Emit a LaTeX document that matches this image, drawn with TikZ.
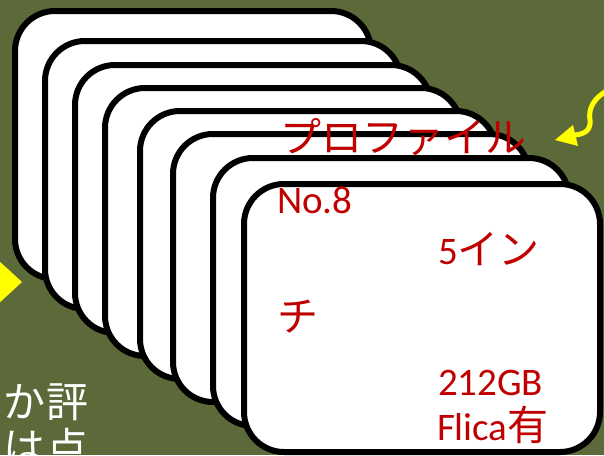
\documentclass[tikz,border=0pt]{standalone}
\usepackage{fontspec}
\newfontfamily\jpf{Noto Sans CJK JP}
\newfontfamily\latf{Carlito}
\newcommand{\jpsz}{\fontsize{41}{43}\selectfont}
\newcommand{\lasz}{\fontsize{39}{41}\selectfont}
\definecolor{bgolive}{RGB}{92,106,58}
\definecolor{txtred}{RGB}{192,0,0}
\definecolor{arrowyellow}{RGB}{255,255,0}
\begin{document}
\begin{tikzpicture}[x=1pt,y=-1pt,
  card/.style={draw=black, fill=white, line width=6pt, rounded corners=40pt,
    minimum width=356pt, minimum height=268pt, inner sep=0pt, outer sep=0pt},
  redtxt/.style={text=txtred, inner sep=0pt, outer sep=0pt, anchor=base west},
  whitetxt/.style={text=white, inner sep=0pt, outer sep=0pt, anchor=base east,
    font=\jpf\fontsize{42}{44}\selectfont},
  yarrow/.style={draw=arrowyellow, line width=5pt, line cap=round}]
\useasboundingbox (0,0) rectangle (604,455);
\fill[bgolive] (0,0) rectangle (604,455);

% left yellow pointer
\fill[arrowyellow] (-2,260) -- (22,282) -- (-2,304) -- cycle;

% white text at bottom left
\node[whitetxt] (w1) at (88,417) {か評};
\node[whitetxt] (w2) at (88,463) {は点};

% stacked cards
\node[card] (c1) at (15+178,11+134) {};
\node[card] (c2) at (45+178,41+134) {};
\node[card] (c3) at (75+178,65+134) {};
\node[card] (c4) at (105+178,88+134) {};
\node[card] (c5) at (140+178,111+134) {};
\node[card] (c6) at (173+178,134+134) {};
\node[card] (c7) at (213+178,158+134) {};
\node[card] (c8) at (244+178,184+134) {};

% red text of the front card
\node[redtxt] (t1) at (280,152) {\jpf\jpsz プロファイル};
\node[redtxt] (t2) at (277,213) {\latf\lasz No.8};
\node[redtxt] (t3) at (438,264) {\latf\lasz 5\jpf\jpsz イン};
\node[redtxt] (t4) at (277,331) {\jpf\jpsz チ};
\node[redtxt] (t5) at (438,395) {\latf\lasz 212GB};
\node[redtxt] (t6) at (437,440) {\latf\lasz Flica\jpf\jpsz 有};

% yellow wavy arrow at top right
\coordinate (aS) at (608,90);
\coordinate (aM) at (590,120);
\coordinate (aB) at (575,135);
\coordinate (aT) at (555,140);
\draw[yarrow] (aS) .. controls (594,98) and (588,108) .. (aM)
  .. controls (591,130) and (585,134) .. (aB);
\fill[arrowyellow] (aT) -- (573,125) -- (578,146) -- cycle;
\end{tikzpicture}
\end{document}
